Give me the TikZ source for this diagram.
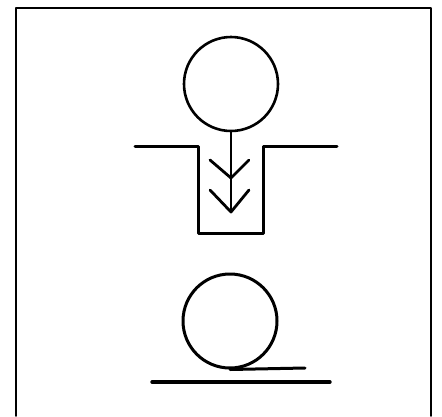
\documentclass[tikz,border=0pt]{standalone}
\usepackage{tikz}
\usetikzlibrary{positioning, calc}

\begin{document}
\begin{tikzpicture}[x=1pt, y=-1pt, line cap=round, line join=round]
    \useasboundingbox (0,0) rectangle (442,416);
    % frame, open at the bottom
    \draw[line width=1.6pt] (16,416) -- (16,8) -- (431,8) -- (431,416);
    % falling ball and pit
    \node[draw, circle, line width=2.6pt, minimum size=94pt, inner sep=0pt] (ball) at (231,84) {};
    \draw[line width=3pt] (135,146) -- (198,146) -- (198,233) -- (263,233) -- (263,146) -- (337,146);
    \coordinate (tip) at (231,212);
    \draw[line width=2.2pt] (ball.south) -- (tip);
    \foreach \y/\d in {178/18, 212/22} {
        \draw[line width=2.8pt] (210,\y-\d) -- (231,\y) -- (249,\y-\d);
    }
    % ball resting on the ground
    \node[draw, circle, line width=3pt, minimum size=94pt, inner sep=0pt] (rest) at (230,321) {};
    \coordinate (touch) at (305,368);
    \draw[line width=3pt] (rest.south) -- (touch);
    \coordinate (gl) at (152,382);
    \coordinate (gr) at (330,382);
    \draw[line width=3.4pt] (gl) -- (gr);
\end{tikzpicture}
\end{document}
